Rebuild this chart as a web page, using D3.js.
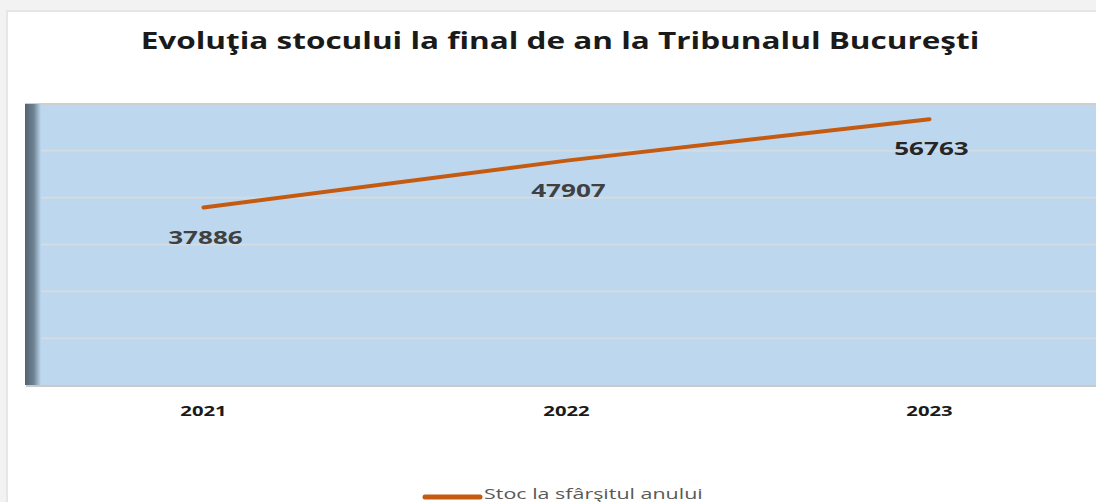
<!DOCTYPE html>
<html>
<head>
<meta charset="utf-8">
<script src="https://cdn.jsdelivr.net/npm/d3@7"></script>
<style>
  body { margin: 0; background: #ffffff; }
  svg { display: block; }
</style>
</head>
<body>
<div id="chart"></div>
<script>

// data
var years = ["2021", "2022", "2023"];
var stoc = [37886, 47907, 56763];
var yTicks = [0, 10000, 20000, 30000, 40000, 50000, 60000];
var seriesName = "Stoc la sfârşitul anului";
var title = "Evoluţia stocului la final de an la Tribunalul Bucureşti";

var width = 1096, height = 502;
var plot = {left: 25, top: 104, right: 1110, bottom: 385};

// the original picture is stretched sideways, so text is widened too
var stretch = 1.45;

var svg = d3.select("#chart")
  .append("svg")
  .attr("width", width)
  .attr("height", height);

var defs = svg.append("defs");

// dark wall on the left side of the plot
var wall = defs.append("linearGradient")
  .attr("id", "wall")
  .attr("x1", 0).attr("x2", 1).attr("y1", 0).attr("y2", 0);
wall.append("stop").attr("offset", "0%").attr("stop-color", "#55636f");
wall.append("stop").attr("offset", "55%").attr("stop-color", "#6f8394");
wall.append("stop").attr("offset", "100%").attr("stop-color", "#bdd7ee");

function wideText(parent, cx, cy, sx) {
  return parent.append("text")
    .attr("transform", "translate(" + cx + "," + cy + ") scale(" + sx + ",1)")
    .attr("font-family", "'Open Sans', sans-serif");
}

// frame around the card
svg.append("rect")
  .attr("x", 0).attr("y", 0)
  .attr("width", width).attr("height", 12)
  .attr("fill", "#f2f2f2");
svg.append("rect")
  .attr("x", 0).attr("y", 0)
  .attr("width", 8).attr("height", height)
  .attr("fill", "#f2f2f2");
svg.append("line")
  .attr("x1", 6).attr("x2", width).attr("y1", 11).attr("y2", 11)
  .attr("stroke", "#e6e6e6").attr("stroke-width", 2);
svg.append("line")
  .attr("x1", 7).attr("x2", 7).attr("y1", 11).attr("y2", height)
  .attr("stroke", "#e6e6e6").attr("stroke-width", 2);

// title
wideText(svg, 560, 49, 1.37)
  .attr("text-anchor", "middle")
  .attr("font-weight", "bold")
  .attr("font-size", 23)
  .attr("fill", "#1a1a1a")
  .text(title);

var x = d3.scaleBand()
  .domain(years)
  .range([22, 1111]);

var y = d3.scaleLinear()
  .domain([0, 60000])
  .range([plot.bottom, plot.top]);

// plot background
svg.append("rect")
  .attr("x", plot.left + 1)
  .attr("y", plot.top + 2)
  .attr("width", plot.right - plot.left)
  .attr("height", plot.bottom - plot.top)
  .attr("fill", "#c9c9c9");
svg.append("rect")
  .attr("x", plot.left)
  .attr("y", plot.top)
  .attr("width", plot.right - plot.left)
  .attr("height", plot.bottom - plot.top)
  .attr("fill", "#bdd7ee");

// gridlines
svg.selectAll(".grid")
  .data(yTicks.slice(1, -1))
  .enter()
  .append("line")
  .attr("class", "grid")
  .attr("x1", plot.left)
  .attr("x2", plot.right)
  .attr("y1", d => y(d))
  .attr("y2", d => y(d))
  .attr("stroke", "#d3dbe3")
  .attr("stroke-width", 2);

svg.append("line")
  .attr("x1", plot.left).attr("x2", plot.right)
  .attr("y1", plot.top).attr("y2", plot.top)
  .attr("stroke", "#cfcfcf").attr("stroke-width", 2);

svg.append("rect")
  .attr("x", plot.left)
  .attr("y", plot.top)
  .attr("width", 16)
  .attr("height", plot.bottom - plot.top)
  .attr("fill", "url(#wall)");

// line
var line = d3.line()
  .x((d, i) => x(years[i]) + x.bandwidth() / 2)
  .y(d => y(d));

svg.append("path")
  .datum(stoc)
  .attr("d", line)
  .attr("fill", "none")
  .attr("stroke", "#c55a11")
  .attr("stroke-width", 4)
  .attr("stroke-linecap", "round");

// value labels
stoc.forEach(function(d, i) {
  wideText(svg, x(years[i]) + x.bandwidth() / 2 + 2, y(d) + 36, stretch)
    .attr("text-anchor", "middle")
    .attr("font-weight", "bold")
    .attr("font-size", 18)
    .attr("fill", i == 2 ? "#262626" : "#404040")
    .text(d);
});

// x axis labels
years.forEach(function(d) {
  wideText(svg, x(d) + x.bandwidth() / 2, 416, stretch)
    .attr("text-anchor", "middle")
    .attr("font-weight", "bold")
    .attr("font-size", 14)
    .attr("fill", "#1a1a1a")
    .text(d);
});

// legend
var legend = svg.append("g");
legend.append("line")
  .attr("x1", 425).attr("x2", 480)
  .attr("y1", 497).attr("y2", 497)
  .attr("stroke", "#c55a11")
  .attr("stroke-width", 5)
  .attr("stroke-linecap", "round");
wideText(legend, 484, 499, 1.43)
  .attr("font-size", 15)
  .attr("fill", "#595959")
  .text(seriesName);

</script>
</body>
</html>
